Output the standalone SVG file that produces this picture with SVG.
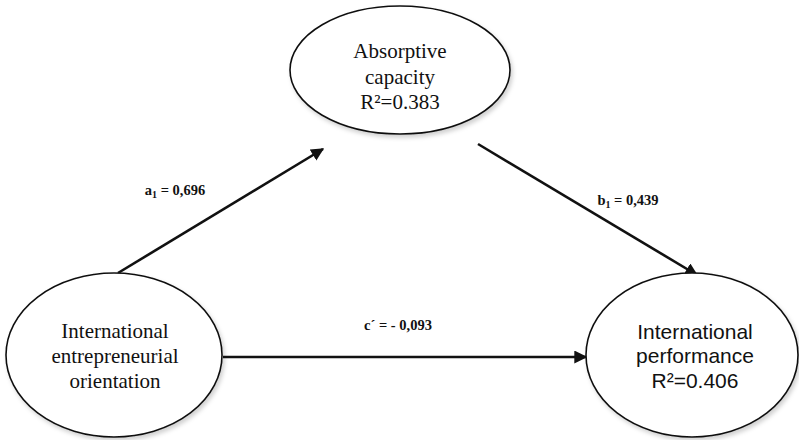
<svg xmlns="http://www.w3.org/2000/svg" width="799" height="440" viewBox="0 0 799 440">
<style>
.node{fill:#fff;stroke:#111;stroke-width:1.6}
.serif{font-family:"Liberation Serif","Times New Roman",serif;font-size:21px;fill:#111;text-anchor:middle}
.sans{font-family:"Liberation Sans",Arial,sans-serif;font-size:21px;fill:#111;text-anchor:middle}
.lbl{font-family:"Liberation Serif","Times New Roman",serif;font-size:14.5px;font-weight:bold;fill:#111;text-anchor:middle}
.edge{stroke:#111;stroke-width:2.6;fill:none;marker-end:url(#ah)}
</style>
<defs>
<marker id="ah" viewBox="0 0 10 10" refX="9" refY="5" markerWidth="5" markerHeight="5" markerUnits="strokeWidth" orient="auto">
<path d="M0,0 L10,5 L0,10 Z" fill="#111"/>
</marker>
<filter id="sh" x="-10%" y="-10%" width="130%" height="130%">
<feDropShadow dx="2" dy="3" stdDeviation="2" flood-color="#000" flood-opacity="0.18"/>
</filter>
</defs>
<rect width="799" height="440" fill="#fff"/>
<g id="connectors">
<line class="edge" x1="118" y1="273" x2="323" y2="149"/>
<line class="edge" x1="478" y1="144" x2="697" y2="275"/>
<line class="edge" x1="223" y1="357" x2="586" y2="357"/>
<text class="lbl" x="175" y="195">a<tspan font-size="10" dy="3">1</tspan><tspan dy="-3"> = 0,696</tspan></text>
<text class="lbl" x="628" y="205">b<tspan font-size="10" dy="3">1</tspan><tspan dy="-3"> = 0,439</tspan></text>
<text class="lbl" x="398" y="330">c´ = - 0,093</text>
</g>
<g id="absorptive">
<ellipse class="node" cx="400" cy="70" rx="110" ry="64" filter="url(#sh)"/>
<text class="serif" x="400" y="58">Absorptive</text>
<text class="serif" x="400" y="84">capacity</text>
<text class="serif" x="400" y="109">R²=0.383</text>
</g>
<g id="ieo">
<ellipse class="node" cx="114" cy="355" rx="108" ry="82" filter="url(#sh)"/>
<text class="serif" x="115" y="338">International</text>
<text class="serif" x="115" y="363">entrepreneurial</text>
<text class="serif" x="115" y="388">orientation</text>
</g>
<g id="performance">
<ellipse class="node" cx="692" cy="355" rx="106" ry="82" filter="url(#sh)"/>
<text class="sans" x="695" y="339">International</text>
<text class="sans" x="695" y="363">performance</text>
<text class="sans" x="695" y="388">R²=0.406</text>
</g>
</svg>
